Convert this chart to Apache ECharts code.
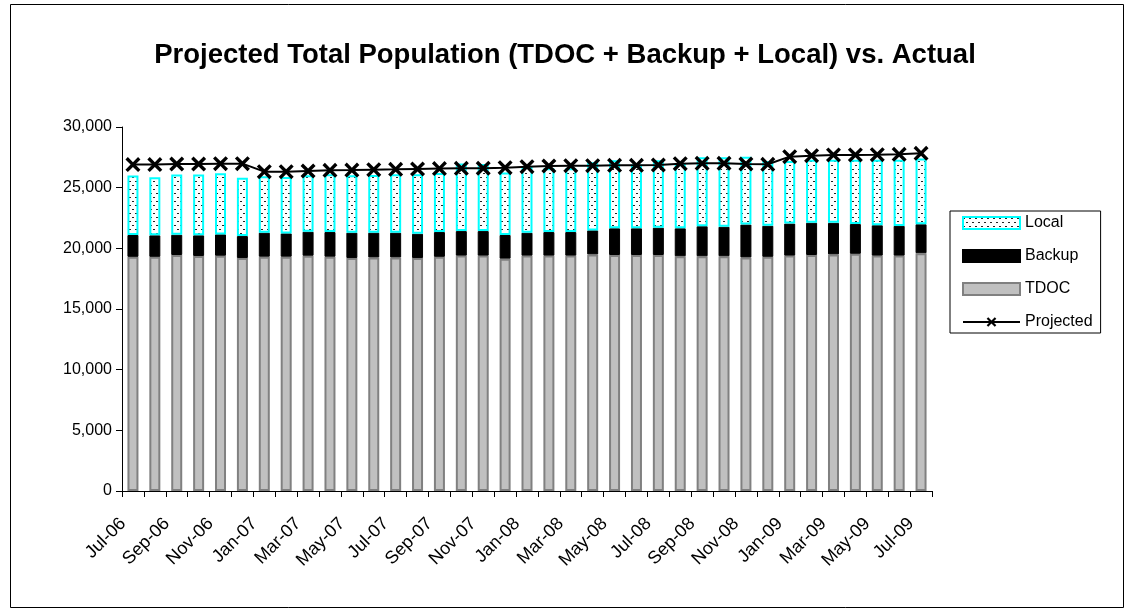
<!DOCTYPE html>
<html lang="en">
<head>
    <meta charset="UTF-8">
    <title>Projected Total Population</title>
    <script src="https://cdn.jsdelivr.net/npm/echarts@6.0.0/dist/echarts.min.js"></script>
    <style>
        html, body { margin: 0; padding: 0; background: #fff; }
        #chart { width: 1130px; height: 614px; }
    </style>
</head>
<body>
<div id="chart"></div>
<script>

    var months = ['Jul-06', 'Aug-06', 'Sep-06', 'Oct-06', 'Nov-06', 'Dec-06',
        'Jan-07', 'Feb-07', 'Mar-07', 'Apr-07', 'May-07', 'Jun-07',
        'Jul-07', 'Aug-07', 'Sep-07', 'Oct-07', 'Nov-07', 'Dec-07',
        'Jan-08', 'Feb-08', 'Mar-08', 'Apr-08', 'May-08', 'Jun-08',
        'Jul-08', 'Aug-08', 'Sep-08', 'Oct-08', 'Nov-08', 'Dec-08',
        'Jan-09', 'Feb-09', 'Mar-09', 'Apr-09', 'May-09', 'Jun-09', 'Jul-09'];

    var tdoc = [19300, 19300, 19450, 19370, 19390, 19200,
        19310, 19310, 19390, 19310, 19200, 19250,
        19250, 19200, 19300, 19400, 19400, 19150,
        19400, 19400, 19400, 19500, 19450, 19450,
        19450, 19350, 19350, 19350, 19250, 19300,
        19400, 19450, 19500, 19550, 19400, 19400, 19600];

    var backup = [1800, 1770, 1670, 1700, 1760, 1810,
        1980, 1920, 1980, 2030, 2090, 2040,
        2040, 2000, 2040, 2020, 2020, 1950,
        1890, 1940, 1940, 1980, 2200, 2200,
        2250, 2300, 2470, 2430, 2710, 2560,
        2640, 2660, 2600, 2450, 2500, 2450, 2380];

    var local = [4900, 4780, 4960, 5010, 5030, 4810,
        4660, 4650, 4660, 4760, 4730, 4760,
        4810, 4900, 4860, 5580, 5530, 5150,
        5410, 5260, 5260, 5620, 5600, 5250,
        5550, 5350, 5680, 5720, 5590, 5340,
        5160, 5190, 5200, 5300, 5400, 5450, 5420];

    var projected = [26900, 26900, 26950, 26950, 26980, 26980,
        26320, 26320, 26375, 26430, 26450, 26485,
        26510, 26540, 26570, 26595, 26600, 26650,
        26730, 26785, 26815, 26815, 26840, 26840,
        26870, 26980, 27005, 27005, 26950, 26925,
        27555, 27640, 27695, 27700, 27720, 27750, 27830];

    var yTicks = [0, 5000, 10000, 15000, 20000, 25000, 30000];

    // dotted fill used by the Local segment
    var makeDots = function () {
        var c = document.createElement('canvas');
        c.width = 6;
        c.height = 8;
        var ctx = c.getContext('2d');
        ctx.fillStyle = '#ffffff';
        ctx.fillRect(0, 0, 6, 8);
        ctx.fillStyle = '#222222';
        ctx.fillRect(0, 1, 2, 1);
        ctx.fillRect(3, 5, 2, 1);
        return c;
    };

    var fmt = function (v) {
        return String(v).replace(/\B(?=(\d{3})+(?!\d))/g, ',');
    };

    // thin X marker, drawn as a filled outline
    var xMark = 'path://M0,1.6 L1.6,0 L5,3.4 L8.4,0 L10,1.6 L6.6,5 L10,8.4 L8.4,10 L5,6.6 L1.6,10 L0,8.4 L3.4,5 Z';

    var font = 'Arial, "Liberation Sans", sans-serif';

    var chart = echarts.init(document.getElementById('chart'));

    var option = {
        animation: false,
        backgroundColor: '#ffffff',
        title: {
            text: 'Projected Total Population (TDOC + Backup + Local) vs. Actual',
            left: 560,
            top: 36,
            textAlign: 'center',
            textStyle: {
                fontFamily: font,
                fontSize: 27.5,
                fontWeight: 'bold',
                color: '#000'
            }
        },
        legend: {
            orient: 'vertical',
            left: 950,
            top: 211,
            data: [
                {name: 'Local', icon: 'rect'},
                {name: 'Backup', icon: 'rect'},
                {name: 'TDOC', icon: 'rect'},
                {name: 'Projected'}
            ],
            itemWidth: 57,
            itemHeight: 12,
            itemGap: 17,
            padding: [4, 8, 3, 12],
            borderColor: '#000',
            borderWidth: 1,
            textStyle: {
                fontFamily: font,
                fontSize: 16,
                color: '#000'
            }
        },
        grid: {
            left: 122,
            right: 198,
            top: 127,
            bottom: 123
        },
        xAxis: {
            type: 'category',
            data: months,
            boundaryGap: true,
            axisLine: {lineStyle: {color: '#000', width: 1}},
            axisTick: {
                show: true,
                interval: 0,
                length: 6,
                lineStyle: {color: '#000'}
            },
            axisLabel: {
                interval: 1,
                rotate: 45,
                margin: 20,
                padding: [0, 14, 0, 0],
                fontFamily: font,
                fontSize: 18,
                color: '#000'
            },
            splitLine: {show: false}
        },
        yAxis: {
            type: 'value',
            min: yTicks[0],
            max: yTicks[yTicks.length - 1],
            interval: 5000,
            axisLine: {show: true, lineStyle: {color: '#000', width: 1}},
            axisTick: {show: true, length: 6, lineStyle: {color: '#000'}},
            axisLabel: {
                margin: 10,
                fontFamily: font,
                fontSize: 16,
                color: '#000',
                formatter: fmt
            },
            splitLine: {show: false}
        },
        series: [
            {
                name: 'TDOC',
                type: 'bar',
                stack: 'pop',
                barWidth: 11,
                data: tdoc,
                itemStyle: {color: '#C0C0C0', borderColor: '#808080', borderWidth: 2}
            },
            {
                name: 'Backup',
                type: 'bar',
                stack: 'pop',
                barWidth: 11,
                data: backup,
                itemStyle: {color: '#000000', borderColor: '#000000', borderWidth: 1}
            },
            {
                name: 'Local',
                type: 'bar',
                stack: 'pop',
                barWidth: 11,
                data: local,
                itemStyle: {
                    color: {image: makeDots(), repeat: 'repeat'},
                    borderColor: '#00FFFF',
                    borderWidth: 2
                }
            },
            {
                name: 'Projected',
                type: 'line',
                data: projected,
                symbol: xMark,
                symbolSize: 15,
                showAllSymbol: true,
                lineStyle: {color: '#000', width: 2},
                itemStyle: {color: '#000'},
                z: 5
            }
        ],
        graphic: [
            {
                type: 'rect',
                left: 8,
                top: 2,
                shape: {width: 1113, height: 603},
                style: {fill: 'none', stroke: '#000', lineWidth: 1},
                silent: true
            }
        ]
    };

    chart.setOption(option);

</script>
</body>
</html>
